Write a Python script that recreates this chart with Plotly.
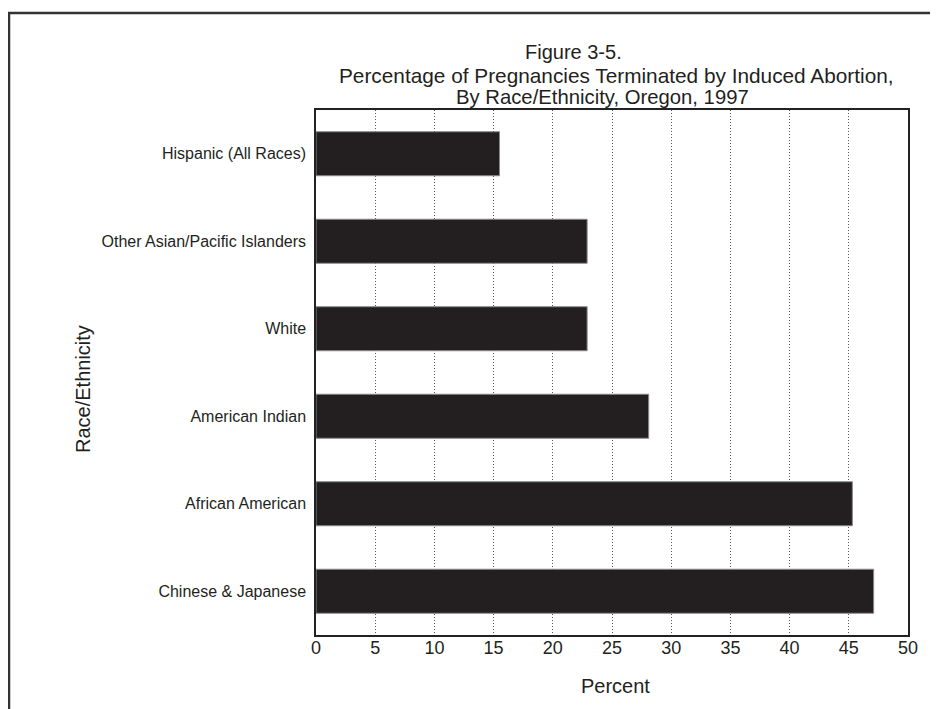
import plotly.graph_objects as go

categories = ["Hispanic (All Races)", "Other Asian/Pacific Islanders", "White",
              "American Indian", "African American", "Chinese & Japanese"]
percent = [15.5, 22.9, 22.9, 28.1, 45.3, 47.1]
x_ticks = [0, 5, 10, 15, 20, 25, 30, 35, 40, 45, 50]
title_lines = ["Figure 3-5.",
               "Percentage of Pregnancies Terminated by Induced Abortion,",
               "By Race/Ethnicity, Oregon, 1997"]

# the page body adds an 8px offset; work in window pixels and convert
OFF = 8
W, H = 938 - OFF, 709 - OFF
L, R, T, B = 316, 908, 110, 635  # plot area in window pixels

def px(x):
    return (x - L) / (R - L)

def py(y):
    return (B - y) / (B - T)

FONT = "Liberation Sans, Arial, sans-serif"
INK = "#231f20"

fig = go.Figure(go.Bar(
    x=percent, y=categories, orientation="h",
    marker=dict(color=INK, line=dict(color="#8a8a8a", width=1)),
    hoverinfo="x+y",
))

fig.update_layout(
    width=W, height=H,
    margin=dict(l=L - OFF, r=938 - R, t=T - OFF, b=709 - B, pad=0),
    paper_bgcolor="white", plot_bgcolor="white",
    bargap=0.497,
    showlegend=False,
    font=dict(family=FONT, color=INK),
)

fig.update_xaxes(
    range=[0, 50], tickvals=x_ticks, ticktext=[str(v) for v in x_ticks],
    showgrid=True, gridcolor="#555555", griddash="1px,2px", gridwidth=1,
    zeroline=False, showline=True, linecolor="#222222", linewidth=1.5, mirror=True,
    ticks="", tickfont=dict(size=18, family=FONT, color=INK),
    ticklabelstandoff=-4,
    fixedrange=True,
)
fig.update_yaxes(
    autorange="reversed",
    showgrid=False, zeroline=False,
    showline=True, linecolor="#222222", linewidth=1.5, mirror=True,
    ticks="outside", ticklen=5, tickcolor="rgba(0,0,0,0)",
    tickfont=dict(size=16, family=FONT, color=INK),
    fixedrange=True,
)

# outer frame
fig.add_shape(type="rect", xref="paper", yref="paper",
              x0=px(9), x1=px(960), y0=py(730), y1=py(13),
              line=dict(color="#333333", width=2.5), fillcolor="rgba(0,0,0,0)")

# title lines
title_pos = [(573, 52, 20), (616, 75, 20.8), (602, 97, 20.3)]
for text, (cx, cy, fs) in zip(title_lines, title_pos):
    fig.add_annotation(text=text, xref="paper", yref="paper", x=px(cx), y=py(cy),
                       xanchor="center", yanchor="middle", showarrow=False,
                       font=dict(size=fs, family=FONT, color=INK))

# axis titles
fig.add_annotation(text="Percent", xref="paper", yref="paper", x=px(615), y=py(686),
                   xanchor="center", yanchor="middle", showarrow=False,
                   font=dict(size=20, family=FONT, color=INK))
fig.add_annotation(text="Race/Ethnicity", xref="paper", yref="paper", x=px(83), y=py(389),
                   xanchor="center", yanchor="middle", showarrow=False, textangle=-90,
                   font=dict(size=20, family=FONT, color=INK))

fig.write_html("out.html")
